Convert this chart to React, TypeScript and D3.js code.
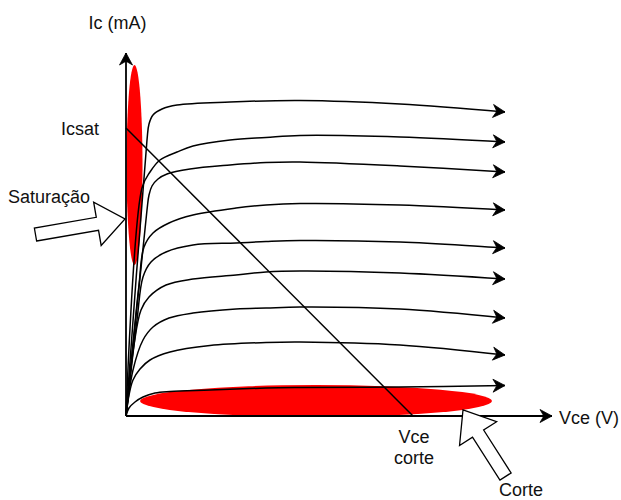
import React from "react";
import * as d3 from "d3";

// Axis extents (arbitrary units, Vce and Ic)
const vceMax = 42.6;
const icMax = 36.3;

// Characteristic curves Ic(Vce) for 9 base currents: [Vce, Ic]
const curve1: [number, number][] = [[0, 0], [2.1, 27.6], [2.3, 29.2], [2.7, 30.1], [3.6, 30.7], [5.1, 31.1], [10.4, 31.4], [17.4, 31.55], [27.4, 31.2], [37.9, 30.4]];
const curve2: [number, number][] = [[0, 0], [1.6, 22.8], [2.4, 24.4], [3.4, 25.6], [5.1, 26.4], [6.7, 27.0], [10.4, 27.6], [14.0, 27.85], [17.4, 28.05], [27.4, 27.9], [37.9, 27.4]];
const curve3: [number, number][] = [[0, 0], [2.1, 20.6], [2.3, 22.1], [2.6, 23.0], [3.2, 23.7], [4.1, 24.2], [6.4, 24.7], [10.4, 25.1], [14.0, 25.35], [17.4, 25.4], [27.4, 25.0], [37.9, 24.4]];
const curve4: [number, number][] = [[0, 0], [1.3, 13.1], [1.8, 16.9], [2.7, 18.3], [4.3, 19.3], [6.7, 20.1], [11.0, 20.8], [14.0, 21.1], [17.4, 21.25], [27.4, 21.1], [37.9, 20.6]];
const curve5: [number, number][] = [[0, 0], [1.1, 9.6], [1.7, 13.9], [2.5, 15.4], [4.0, 16.4], [6.7, 17.1], [11.0, 17.3], [14.0, 17.45], [17.4, 17.55], [27.4, 17.4], [37.9, 16.8]];
const curve6: [number, number][] = [[0, 0], [0.8, 7.1], [1.5, 10.6], [2.3, 11.9], [4.0, 13.1], [6.7, 13.7], [11.0, 14.1], [14.0, 14.4], [17.4, 14.5], [27.4, 14.3], [37.9, 13.7]];
const curve7: [number, number][] = [[0, 0], [0.7, 4.6], [1.7, 7.6], [2.7, 8.9], [4.3, 9.8], [6.7, 10.3], [11.0, 10.7], [14.0, 10.8], [17.4, 10.9], [27.4, 10.7], [37.9, 9.8]];
const curve8: [number, number][] = [[0, 0], [0.3, 2.1], [0.7, 3.6], [1.4, 4.7], [2.4, 5.6], [4.4, 6.4], [8.4, 7.05], [14.0, 7.35], [17.4, 7.4], [27.4, 7.1], [37.9, 6.1]];
const curve9: [number, number][] = [[0, 0], [0.3, 0.8], [0.9, 1.4], [1.7, 1.9], [2.9, 2.3], [4.4, 2.45], [8.4, 2.6], [14.0, 2.8], [17.4, 2.85], [27.4, 2.9], [37.9, 3.05]];
const curves = [curve1, curve2, curve3, curve4, curve5, curve6, curve7, curve8, curve9];

// Load line end points
const icSat = 28.8;
const vceCorte = 28.7;

// Highlighted regions: [centerVce, centerIc, radiusVce, radiusIc]
const saturationRegion = [0.85, 25.1, 0.8, 10.0];
const cutoffRegion = [19.0, 1.5, 17.6, 1.6];

// Pointer arrows: tail and tip in data units
const saturationPointer = { tail: [-9.05, 18.15], tip: [-0.1, 19.7] };
const cutoffPointer = { tail: [37.95, -6.05], tip: [33.7, 0.6] };

const W = 621;
const H = 500;
const FONT = "'Liberation Sans', Arial, Helvetica, sans-serif";

export default function App() {
  const x = d3.scaleLinear().domain([0, vceMax]).range([126, 552]);
  const y = d3.scaleLinear().domain([0, icMax]).range([416, 53]);

  const line = d3
    .line<[number, number]>()
    .x((d) => x(d[0]))
    .y((d) => y(d[1]))
    .curve(d3.curveCatmullRom.alpha(0.5));

  const straight = d3
    .line<[number, number]>()
    .x((d) => x(d[0]))
    .y((d) => y(d[1]));

  const blockArrow = (p: { tail: number[]; tip: number[] }) => {
    const S = [x(p.tail[0]), y(p.tail[1])];
    const T = [x(p.tip[0]), y(p.tip[1])];
    const dx = T[0] - S[0];
    const dy = T[1] - S[1];
    const len = Math.hypot(dx, dy);
    const u = [dx / len, dy / len];
    const n = [-u[1], u[0]];
    const headLen = 28;
    const headHalf = 22;
    const shaftHalf = 6.6;
    const B = [T[0] - u[0] * headLen, T[1] - u[1] * headLen];
    const pts = [
      [S[0] + n[0] * shaftHalf, S[1] + n[1] * shaftHalf],
      [B[0] + n[0] * shaftHalf, B[1] + n[1] * shaftHalf],
      [B[0] + n[0] * headHalf, B[1] + n[1] * headHalf],
      T,
      [B[0] - n[0] * headHalf, B[1] - n[1] * headHalf],
      [B[0] - n[0] * shaftHalf, B[1] - n[1] * shaftHalf],
      [S[0] - n[0] * shaftHalf, S[1] - n[1] * shaftHalf],
    ];
    return "M" + pts.map((p) => p.join(",")).join("L") + "Z";
  };

  const ell = (r: number[]) => ({
    cx: x(r[0]),
    cy: y(r[1]),
    rx: x(r[2]) - x(0),
    ry: y(0) - y(r[3]),
  });
  const sat = ell(saturationRegion);
  const cut = ell(cutoffRegion);

  const textStyle = { fontFamily: FONT, fontSize: 18, fill: "#111" } as const;

  return (
    <svg
      width={W}
      height={H}
      style={{ position: "absolute", left: 0, top: 0, background: "#fff" }}
    >
      <defs>
        <marker
          id="arr"
          markerUnits="userSpaceOnUse"
          markerWidth={14}
          markerHeight={14}
          refX={12}
          refY={6.5}
          orient="auto"
          style={{ overflow: "visible" }}
        >
          <path d="M12,6.5 L0,0 L3.8,6.5 L0,13 Z" fill="#000" stroke="#000" strokeWidth={0.8} strokeLinejoin="miter" />
        </marker>
      </defs>
      <rect width={W} height={H} fill="#fff" />

      <ellipse {...sat} fill="#ff0000" />
      <ellipse {...cut} fill="#ff0000" />

      {curves.map((c, i) => (
        <path key={i} d={line(c) || ""} fill="none" stroke="#000" strokeWidth={1.5} markerEnd="url(#arr)" />
      ))}

      <path
        d={straight([[0, icSat], [vceCorte, 0]]) || ""}
        fill="none"
        stroke="#000"
        strokeWidth={1.5}
      />

      <path d={straight([[0, 0], [0, icMax]]) || ""} fill="none" stroke="#000" strokeWidth={1.8} markerEnd="url(#arr)" />
      <path d={straight([[0, 0], [vceMax, 0]]) || ""} fill="none" stroke="#000" strokeWidth={1.8} markerEnd="url(#arr)" />

      <path d={blockArrow(saturationPointer)} fill="#fff" stroke="#000" strokeWidth={1.3} strokeLinejoin="miter" />
      <path d={blockArrow(cutoffPointer)} fill="#fff" stroke="#000" strokeWidth={1.3} strokeLinejoin="miter" />

      <text x={x(0) - 8.5} y={29} textAnchor="middle" style={textStyle}>Ic (mA)</text>
      <text x={x(0) - 27} y={y(icSat) + 7} textAnchor="end" style={textStyle}>Icsat</text>
      <text x={8} y={203} style={textStyle}>Saturação</text>
      <text x={559} y={y(0) + 8} style={textStyle}>Vce (V)</text>
      <text x={x(vceCorte) + 1} y={443} textAnchor="middle" style={textStyle}>Vce</text>
      <text x={x(vceCorte) + 1} y={464} textAnchor="middle" style={textStyle}>corte</text>
      <text x={499} y={496} style={textStyle}>Corte</text>
    </svg>
  );
}
